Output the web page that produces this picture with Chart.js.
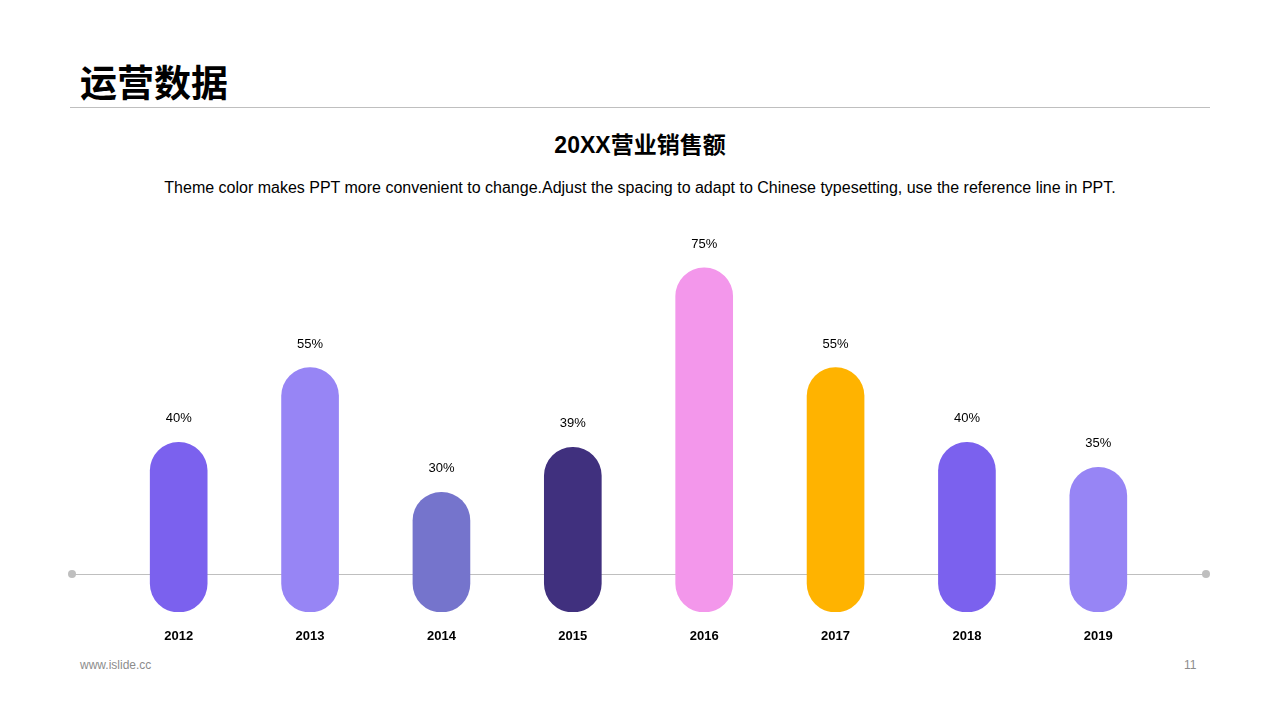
<!DOCTYPE html>
<html><head><meta charset="utf-8">
<script src="https://cdn.jsdelivr.net/npm/chart.js@4"></script>
<style>
body{margin:0;width:1280px;height:720px;background:#fff;position:relative;overflow:hidden;font-family:"Noto Sans CJK SC",Arial,sans-serif}
.a{position:absolute}
</style></head><body>
<div class="a" style="left:80px;top:57px;font-size:37px;font-weight:bold;color:#000;line-height:48px">运营数据</div>
<div class="a" style="left:70px;top:107px;width:1140px;height:1px;background:#bfbfbf"></div>
<div class="a" style="left:0;width:1280px;top:127px;text-align:center;font-size:23px;font-weight:bold;line-height:32px"><span style="font-family:'Liberation Sans',Arial">20XX</span>营业销售额</div>
<div class="a" style="left:0;width:1280px;top:178px;text-align:center;font-size:16px;font-family:'Liberation Sans',Arial;line-height:20px">Theme color makes PPT more convenient to change.Adjust the spacing to adapt to Chinese typesetting, use the reference line in PPT.</div>
<div class="a" style="left:72px;top:574px;width:1134px;height:1px;background:#bfbfbf"></div>
<div class="a" style="left:68px;top:570px;width:8px;height:8px;border-radius:4px;background:#bfbfbf"></div>
<div class="a" style="left:1202px;top:570px;width:8px;height:8px;border-radius:4px;background:#bfbfbf"></div>
<div class="a" style="left:80px;top:658px;font-size:12px;color:#8c8c8c;font-family:'Liberation Sans',Arial">www.islide.cc</div>
<div class="a" style="left:1184px;top:658px;font-size:12px;color:#8c8c8c;font-family:'Liberation Sans',Arial">11</div>
<div class="a" style="left:113px;top:230px;width:1051px;height:430px"><canvas id="c"></canvas></div>
<script>
const years=['2012','2013','2014','2015','2016','2017','2018','2019'];
const values=[40,55,30,39,75,55,40,35];
const colors=['#7B61EE','#9785F5','#7574CC','#40307E','#F397EB','#FFB300','#7B61EE','#9785F5'];
const base=6;
const labelPlugin={id:'lbl',afterDatasetsDraw(ch){
 const ctx=ch.ctx;const meta=ch.getDatasetMeta(0);ctx.save();ctx.textAlign='center';ctx.fillStyle='#000';
 meta.data.forEach((b,i)=>{
  ctx.font='13px "Liberation Sans",Arial';ctx.textBaseline='alphabetic';
  ctx.fillText(values[i]+'%',b.x,b.y-20);
  ctx.font='bold 13px "Liberation Sans",Arial';
  ctx.fillText(years[i],b.x,ch.chartArea.bottom+28);
 });ctx.restore();}};
new Chart(document.getElementById('c'),{type:'bar',
 data:{labels:years,datasets:[{data:values.map(v=>[base,v]),backgroundColor:colors,borderRadius:29,borderSkipped:false,barThickness:57}]},
 options:{responsive:true,maintainAspectRatio:false,animation:false,
  layout:{padding:{top:0,bottom:48,left:0,right:0}},
  plugins:{legend:{display:false},tooltip:{enabled:false}},
  scales:{x:{display:false},y:{display:false,min:base,max:82.6}}},
 plugins:[labelPlugin]});
</script></body></html>
